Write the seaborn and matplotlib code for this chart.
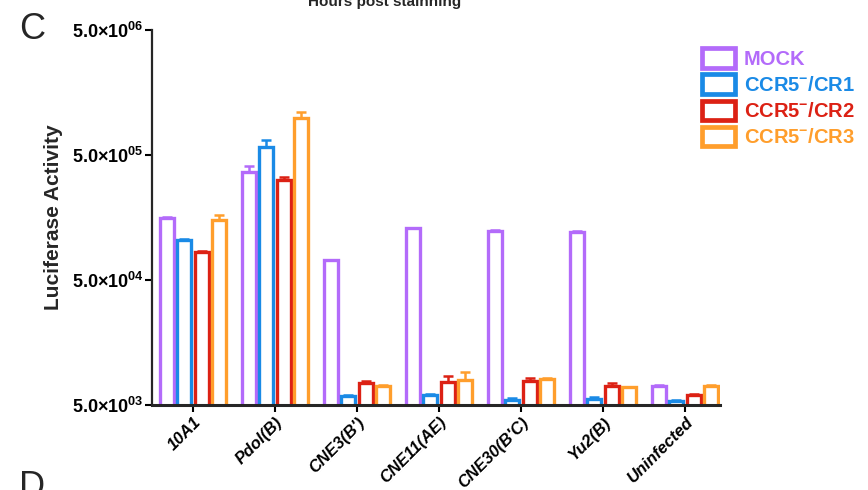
import numpy as np
import pandas as pd
import matplotlib
matplotlib.use('Agg')
import matplotlib.pyplot as plt
import seaborn as sns
from matplotlib.patches import Patch

### DATA ###
groups = ['10A1', 'Pdol(B)', "CNE3(B')", 'CNE11(AE)', "CNE30(B'C)", 'Yu2(B)', 'Uninfected']
conditions = ['MOCK', 'CCR5$^{-}$/CR1', 'CCR5$^{-}$/CR2', 'CCR5$^{-}$/CR3']

mock = [1.56e5, 3.64e5, 7.16e4, 1.29e5, 1.24e5, 1.22e5, 7.1e3]
cr1 = [1.04e5, 5.82e5, 5.9e3, 6.0e3, 5.5e3, 5.55e3, 5.4e3]
cr2 = [8.4e4, 3.15e5, 7.5e3, 7.6e3, 7.8e3, 7.1e3, 6.0e3]
cr3 = [1.51e5, 9.83e5, 7.1e3, 7.9e3, 8.1e3, 6.9e3, 7.1e3]

mock_err = [3e3, 4.0e4, 1.2e3, 2e3, 2e3, 1.5e3, 1e2]
cr1_err = [1.5e3, 7.7e4, 1e2, 1e2, 1.5e2, 2.5e2, 1e2]
cr2_err = [1.2e3, 1.7e4, 2.8e2, 1.0e3, 4.5e2, 4.0e2, 1e2]
cr3_err = [1.5e4, 1.15e5, 1e2, 1.3e3, 1e2, 1e2, 1e2]

colors = ['#B36BFA', '#1A8AE6', '#DC2114', '#FF9E2C']

df = pd.DataFrame({
    'group': groups * 4,
    'condition': np.repeat(conditions, len(groups)),
    'value': mock + cr1 + cr2 + cr3,
})
errs = [mock_err, cr1_err, cr2_err, cr3_err]

### PLOT ###
sns.set_style('ticks')
plt.rcParams['font.family'] = ['Liberation Sans', 'DejaVu Sans']
plt.rcParams['mathtext.fontset'] = 'custom'
plt.rcParams['mathtext.bf'] = 'Liberation Sans:bold'
plt.rcParams['mathtext.rm'] = 'Liberation Sans:bold'
plt.rcParams['mathtext.default'] = 'bf'

fig = plt.figure(figsize=(8.68, 4.9), dpi=100)
ax = fig.add_axes([0.175, 0.1735, 0.655, 0.7655])

sns.barplot(data=df, x='group', y='value', hue='condition', order=groups,
            hue_order=conditions, palette=colors, fill=False, linewidth=2.4,
            width=0.85, gap=0.2, errorbar=None, legend=False, ax=ax)

# error bars (upper only) drawn on top of each hollow bar
for cont, err, col in zip(ax.containers, errs, colors):
    xs = [p.get_x() + p.get_width() / 2 for p in cont.patches]
    ys = [p.get_y() + p.get_height() for p in cont.patches]
    ax.errorbar(xs, ys, yerr=[np.zeros(len(err)), err], fmt='none',
                ecolor=col, elinewidth=1.8, capsize=3.5, capthick=1.8)

ax.set_yscale('log')
ax.set_ylim(5e3, 5e6)
ax.set_xlim(-0.5, 6.43)
ax.set_yticks([5e3, 5e4, 5e5, 5e6])
ax.set_yticklabels([r'$\mathbf{5.0{\times}10^{03}}$', r'$\mathbf{5.0{\times}10^{04}}$',
                    r'$\mathbf{5.0{\times}10^{05}}$', r'$\mathbf{5.0{\times}10^{06}}$'],
                   fontsize=13)
ax.yaxis.set_minor_locator(matplotlib.ticker.NullLocator())
ax.set_xticks(range(len(groups)))
ax.set_xticklabels(groups, rotation=45, ha='right', rotation_mode='anchor',
                   fontsize=12, fontweight='bold', fontstyle='italic')
ax.tick_params(axis='both', length=5, width=1.5, colors='black')
ax.tick_params(axis='y', pad=1)
ax.tick_params(axis='x', pad=2)
ax.set_xlabel('')
ax.set_ylabel('Luciferase Activity', fontsize=15, fontweight='bold', labelpad=6)
sns.despine(ax=ax)
ax.spines['left'].set_linewidth(1.6)
ax.spines['bottom'].set_linewidth(2.2)

handles = [Patch(facecolor='none', edgecolor=c, linewidth=3.4) for c in colors]
leg = fig.legend(handles, conditions, loc='upper left', bbox_to_anchor=(0.8, 0.918),
                 frameon=False, handlelength=1.6, handleheight=1.1,
                 handletextpad=0.45, labelspacing=0.28, borderaxespad=0,
                 prop={'weight': 'bold', 'size': 14.5})
for t, c in zip(leg.get_texts(), colors):
    t.set_color(c)

fig.text(0.443, 0.995, 'Hours post stainning', ha='center', va='center',
         fontsize=11, fontweight='bold')
fig.text(0.022, 0.94, 'C', fontsize=26, va='center', ha='left')
fig.text(0.022, 0.005, 'D', fontsize=26, va='center', ha='left')

fig.savefig('out.png', dpi=100)
